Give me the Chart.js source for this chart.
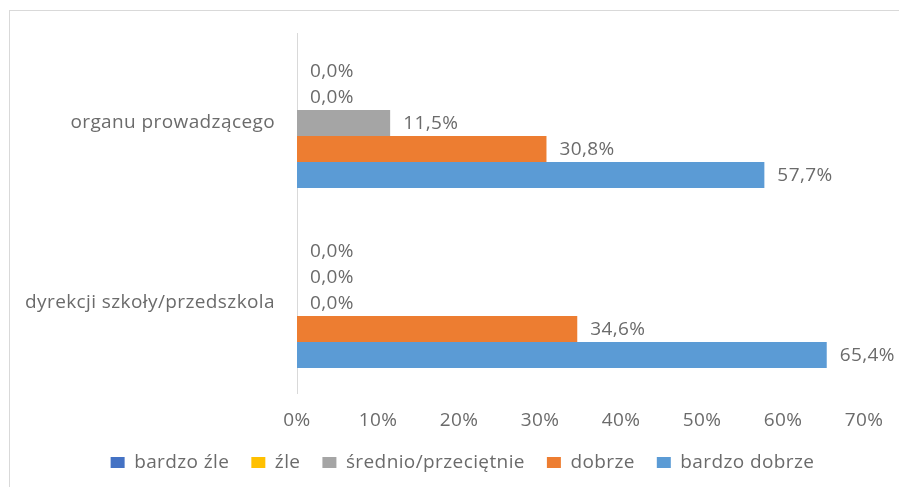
<!DOCTYPE html>
<html>
<head>
<meta charset="utf-8">
<script src="https://cdn.jsdelivr.net/npm/chart.js@4/dist/chart.umd.min.js"></script>
<style>
  html, body { margin: 0; padding: 0; background: #fff; width: 899px; height: 487px; overflow: hidden; }
  #frame { position: absolute; left: 9px; top: 10px; width: 940px; height: 500px;
           border-left: 1px solid #d9d9d9; border-top: 1px solid #d9d9d9; }
  #wrap { position: absolute; left: 10px; top: 11px; width: 908px; height: 471px; }
  canvas { display: block; }
</style>
</head>
<body>
<div id="frame"></div>
<div id="wrap"><canvas id="chart" width="908" height="471"></canvas></div>
<script>
// Oceny współpracy (odsetek odpowiedzi)
const categories = ['organu prowadzącego', 'dyrekcji szkoły/przedszkola'];
const seriesNames = ['bardzo źle', 'źle', 'średnio/przeciętnie', 'dobrze', 'bardzo dobrze'];
const bardzoZle = [0.0, 0.0];
const zle = [0.0, 0.0];
const srednio = [11.5, 0.0];
const dobrze = [30.8, 34.6];
const bardzoDobrze = [57.7, 65.4];
const seriesColors = ['#4472C4', '#FFC000', '#A5A5A5', '#ED7D31', '#5B9BD5'];
const tickValues = [0, 10, 20, 30, 40, 50, 60, 70];

const FONT = "'Open Sans', sans-serif";
const FONT_SIZE = 19;
const TEXT = '#6b6b6b';
const SPACING = '0.4px';

const seriesValues = [bardzoZle, zle, srednio, dobrze, bardzoDobrze];

// slightly looser letter spacing for all chart text (measuring and drawing)
const textSpacing = {
  id: 'textSpacing',
  beforeLayout(chart) { chart.ctx.letterSpacing = SPACING; },
  beforeDraw(chart) { chart.ctx.letterSpacing = SPACING; }
};

// centre the legend across the whole canvas width rather than the padded area
const legendCentre = {
  id: 'legendCentre',
  afterLayout(chart) {
    if (chart.legend) chart.legend.left += 51;
  }
};

const valueLabels = {
  id: 'valueLabels',
  afterDatasetsDraw(chart) {
    const ctx = chart.ctx;
    ctx.save();
    ctx.font = FONT_SIZE + 'px ' + FONT;
    ctx.letterSpacing = SPACING;
    ctx.fillStyle = TEXT;
    ctx.textAlign = 'left';
    ctx.textBaseline = 'middle';
    chart.data.datasets.forEach((ds, i) => {
      const meta = chart.getDatasetMeta(i);
      meta.data.forEach((el, j) => {
        const v = ds.data[j];
        const txt = v.toFixed(1).replace('.', ',') + '%';
        ctx.fillText(txt, el.x + 13, el.y + 1);
      });
    });
    ctx.restore();
  }
};

new Chart(document.getElementById('chart'), {
  type: 'bar',
  data: {
    labels: categories,
    datasets: seriesNames.map((name, i) => ({
      label: name,
      data: seriesValues[i],
      backgroundColor: seriesColors[i],
      borderWidth: 0,
      categoryPercentage: 0.722,
      barPercentage: 1.0
    }))
  },
  options: {
    indexAxis: 'y',
    responsive: false,
    animation: false,
    devicePixelRatio: 1,
    layout: { padding: { top: 22, right: 54, bottom: 0, left: 0 } },
    scales: {
      x: {
        min: 0, max: 70,
        afterBuildTicks(scale) { scale.ticks = tickValues.map(v => ({ value: v })); },
        afterFit(scale) { scale.height = 38; },
        grid: { display: false, drawTicks: false },
        border: { display: false },
        ticks: {
          padding: 16,
          maxRotation: 0,
          color: TEXT,
          font: { family: FONT, size: FONT_SIZE },
          callback: v => v + '%'
        }
      },
      y: {
        afterFit(scale) { scale.width = 287; },
        grid: { display: false, drawTicks: true, tickLength: 22 },
        border: { display: true, color: '#d9d9d9', width: 1 },
        ticks: {
          padding: 0,
          color: TEXT,
          font: { family: FONT, size: FONT_SIZE }
        }
      }
    },
    plugins: {
      legend: {
        position: 'bottom',
        labels: {
          boxWidth: 14,
          boxHeight: 11,
          padding: 22,
          color: TEXT,
          font: { family: FONT, size: FONT_SIZE }
        }
      },
      tooltip: { enabled: false }
    }
  },
  plugins: [textSpacing, legendCentre, valueLabels]
});
</script>
</body>
</html>
